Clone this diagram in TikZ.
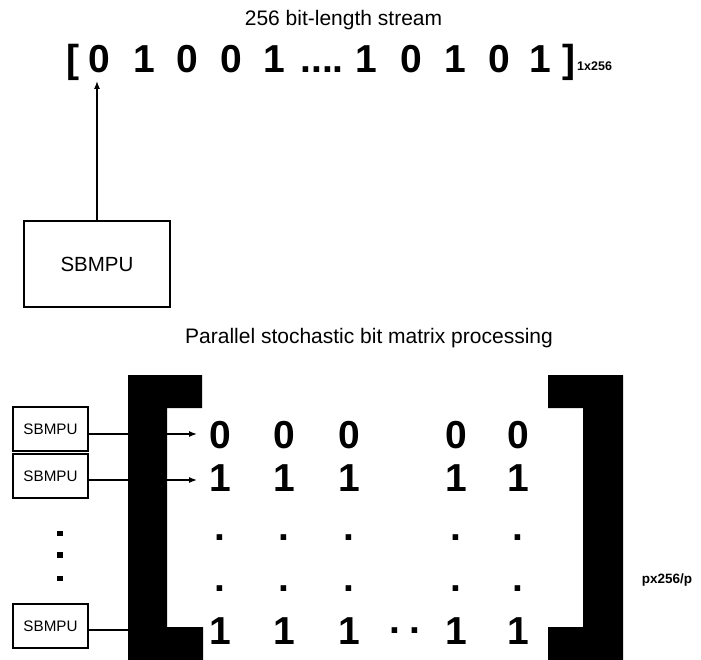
\documentclass[tikz,border=0pt]{standalone}
\usepackage{fontspec}
\setmainfont{Liberation Sans}
\usetikzlibrary{arrows.meta}
\begin{document}
\begin{tikzpicture}[x=1pt,y=-1pt,
  bit/.style={anchor=base,inner sep=0pt,font=\fontsize{39}{39}\selectfont\bfseries},
  lbl/.style={anchor=base,inner sep=0pt,font=\fontsize{21}{21}\selectfont},
  bigunit/.style={draw,line width=1.3pt,inner sep=0pt,minimum width=146pt,minimum height=86pt,font=\fontsize{20.5}{20.5}\selectfont},
  unit/.style={draw,line width=1.3pt,inner sep=0pt,minimum width=75pt,minimum height=44pt,font=\fontsize{15.2}{15.2}\selectfont},
  conn/.style={line width=1.3pt,-{Latex[length=8pt,width=6pt]}},
  vdot/.style={fill=black,draw=none,inner sep=0pt,minimum size=5.5pt},
  brk/.style={fill=black,draw=none}]
\useasboundingbox (0,0) rectangle (701,660);

% ---- top part ----
\node[lbl] (title) at (343.5,26) {256 bit-length stream};
\node[bit] (lb) at (73,73) {[};
\node[bit] (s1) at (99,73) {0};
\node[bit] (s2) at (144,73) {1};
\node[bit] (s3) at (187,73) {0};
\node[bit] (s4) at (231,73) {0};
\node[bit] (s5) at (274,73) {1};
\node[bit] (sd) at (322,73) {....};
\node[bit] (s6) at (366,73) {1};
\node[bit] (s7) at (411,73) {0};
\node[bit] (s8) at (455,73) {1};
\node[bit] (s9) at (499,73) {0};
\node[bit] (s10) at (540,73) {1};
\node[bit] (rb) at (569,73) {]};
\node[anchor=base west,inner sep=0pt,font=\fontsize{12.5}{12.5}\selectfont\bfseries] (sub) at (577,71) {1x256};

\node[bigunit] (top) at (97,264) {SBMPU};
\coordinate (tip0) at (97,81);
\draw[conn] (top) -- (tip0);

% ---- bottom part ----
\node[lbl] (title2) at (369,343) {Parallel stochastic bit matrix processing};

\node[unit] (b1) at (50.5,429) {SBMPU};
\node[unit] (b2) at (50.5,476) {SBMPU};
\node[unit] (b3) at (50.5,626) {SBMPU};
\coordinate (t1) at (197,434);
\coordinate (t2) at (197,480);
\coordinate (t3) at (197,630);
\draw[conn] (b1.east |- t1) -- (t1);
\draw[conn] (b2.east |- t2) -- (t2);
\draw[conn] (b3.east |- t3) -- (t3);

\node[vdot] (ld1) at (60,533.5) {};
\node[vdot] (ld2) at (60,555) {};
\node[vdot] (ld3) at (60,578.5) {};

% brackets
\fill[brk] (128,375) -- (202,375) -- (202,408) -- (167,408) -- (167,627)
  -- (203,627) -- (203,660) -- (128,660) -- cycle;
\fill[brk] (548,375) -- (623,375) -- (623,660) -- (548,660) -- (548,627)
  -- (583,627) -- (583,408) -- (548,408) -- cycle;

% matrix entries
\foreach \c/\x in {1/220,2/284,3/349,4/456,5/518}{
  \node[bit] (m0-\c) at (\x,448) {0};
  \node[bit] (m1-\c) at (\x,491) {1};
  \node[bit] (md1-\c) at (\x,540.5) {.};
  \node[bit] (md2-\c) at (\x,591) {.};
  \node[bit] (mL-\c) at (\x,644) {1};
}
\node[bit] (hd1) at (395,633) {.};
\node[bit] (hd2) at (415,633) {.};

\node[anchor=center,inner sep=0pt,font=\fontsize{13.5}{13.5}\selectfont\bfseries] (pp) at (667,580) {px256/p};
\end{tikzpicture}
\end{document}
